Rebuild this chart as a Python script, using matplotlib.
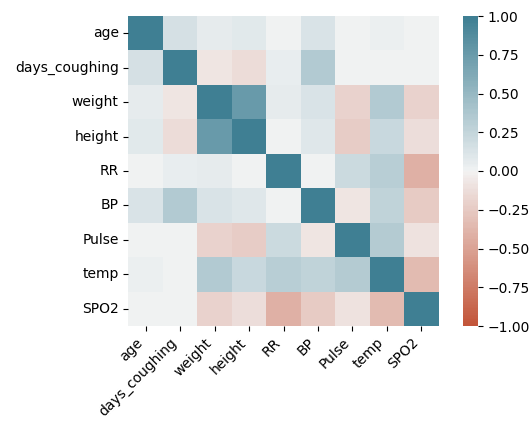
import numpy as np
import pandas as pd
import matplotlib
matplotlib.use("Agg")
import matplotlib.pyplot as plt
import seaborn as sns

# ============================
# Données – matrice de corrélation
# ============================
labels = ["age", "days_coughing", "weight", "height", "RR", "BP", "Pulse", "temp", "SPO2"]

row_age = [1.00, 0.15, 0.05, 0.08, 0.00, 0.13, 0.00, 0.03, 0.00]
row_days = [0.15, 1.00, -0.08, -0.14, 0.04, 0.35, 0.00, 0.00, 0.00]
row_weight = [0.05, -0.08, 1.00, 0.75, 0.05, 0.12, -0.20, 0.35, -0.19]
row_height = [0.08, -0.14, 0.75, 1.00, 0.00, 0.10, -0.23, 0.22, -0.13]
row_rr = [0.00, 0.04, 0.05, 0.00, 1.00, 0.00, 0.20, 0.32, -0.42]
row_bp = [0.13, 0.35, 0.12, 0.10, 0.00, 1.00, -0.08, 0.26, -0.25]
row_pulse = [0.00, 0.00, -0.20, -0.23, 0.20, -0.08, 1.00, 0.33, -0.09]
row_temp = [0.03, 0.00, 0.35, 0.22, 0.32, 0.26, 0.33, 1.00, -0.34]
row_spo2 = [0.00, 0.00, -0.19, -0.13, -0.42, -0.25, -0.09, -0.34, 1.00]

corr = pd.DataFrame(
    [row_age, row_days, row_weight, row_height, row_rr,
     row_bp, row_pulse, row_temp, row_spo2],
    index=labels, columns=labels,
)

# ============================
# Visualisation – heatmap
# ============================
fig = plt.figure(figsize=(5.3, 4.22), dpi=100)
ax = fig.add_axes([128 / 530, 96 / 422, 311 / 530, 310 / 422])
cax = fig.add_axes([463 / 530, 96 / 422, 15 / 530, 310 / 422])

sns.heatmap(
    corr,
    vmin=-1, vmax=1, center=0,
    cmap=sns.diverging_palette(20, 220, n=200),
    square=True,
    ax=ax,
    cbar_ax=cax,
)
ax.set_xticklabels(ax.get_xticklabels(), rotation=45, horizontalalignment="right")
ax.set_yticklabels(ax.get_yticklabels(), rotation=0)
cax.set_yticks([-1, -0.75, -0.5, -0.25, 0, 0.25, 0.5, 0.75, 1])
cax.set_yticklabels(["1.00" if v == 1 else f"{v:.2f}".replace("-", "\u2212")
                     for v in [-1, -0.75, -0.5, -0.25, 0, 0.25, 0.5, 0.75, 1]])

fig.savefig("out.png", dpi=100)
